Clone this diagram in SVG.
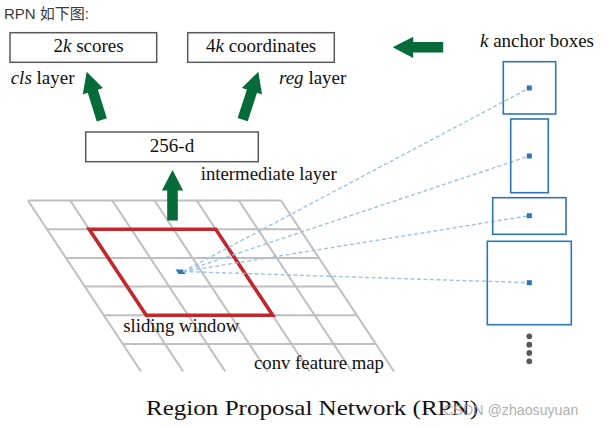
<svg xmlns="http://www.w3.org/2000/svg" width="603" height="428" viewBox="0 0 603 428">
<style>
.serif{font-family:"Liberation Serif","Times New Roman",serif;fill:#111;}
.box{fill:#fff;stroke:#595959;stroke-width:1.5;}
.grid line{stroke:#bfbfbf;stroke-width:2;}
.anchor{fill:none;stroke:#2e75b6;stroke-width:1.6;}
.ctr{fill:#2e75b6;}
.dash{stroke:#9dc3e6;stroke-width:1.4;stroke-dasharray:4 2.5;fill:none;}
.arrow{fill:#056b38;}
</style>
<defs>
<polygon id="up" points="0,0 10.6,20.5 5.3,20.5 5.3,50.5 -5.3,50.5 -5.3,20.5 -10.6,20.5"/>
</defs>
<rect width="603" height="428" fill="#fff"/>
<text x="4" y="18.5" font-family="'Liberation Sans','Noto Sans CJK SC',sans-serif" font-size="15" fill="#3a3a3a">RPN 如下图:</text>

<g id="grid" class="grid">
<line x1="28" y1="200.5" x2="281" y2="200.5"/>
<line x1="47" y1="229.2" x2="300" y2="229.2"/>
<line x1="66" y1="257.9" x2="319" y2="257.9"/>
<line x1="85" y1="286.6" x2="338" y2="286.6"/>
<line x1="104" y1="315.3" x2="357" y2="315.3"/>
<line x1="123" y1="344" x2="376" y2="344"/>
<line x1="28" y1="200.5" x2="141" y2="371.5"/>
<line x1="70.2" y1="200.5" x2="183.2" y2="371.5"/>
<line x1="112.3" y1="200.5" x2="225.3" y2="371.5"/>
<line x1="154.5" y1="200.5" x2="267.5" y2="371.5"/>
<line x1="196.7" y1="200.5" x2="309.7" y2="371.5"/>
<line x1="238.8" y1="200.5" x2="351.8" y2="371.5"/>
<line x1="281" y1="200.5" x2="394" y2="371.5"/>
</g>

<g id="sliding-window">
<polygon points="89.2,229.2 215.7,229.2 272.7,315.3 146.2,315.3" fill="none" stroke="#c1272d" stroke-width="3.6" stroke-linejoin="miter"/>
<polygon class="ctr" points="175.5,269.5 183,269.5 185.5,274 178.5,274"/>
</g>

<g id="connectors">
<line class="dash" x1="183" y1="271.5" x2="529.3" y2="88"/>
<line class="dash" x1="183" y1="271.5" x2="529.3" y2="156"/>
<line class="dash" x1="183" y1="271.5" x2="529.3" y2="215.7"/>
<line class="dash" x1="183" y1="271.5" x2="529.3" y2="282.7"/>
<use href="#up" class="arrow" transform="translate(86.7,71.7) rotate(-17.4)"/>
<use href="#up" class="arrow" transform="translate(258.3,71.7) rotate(18)"/>
<use href="#up" class="arrow" transform="translate(172.5,170)"/>
<use href="#up" class="arrow" transform="translate(392.7,47.3) rotate(-90)"/>
</g>

<g id="node-scores">
<rect class="box" x="10" y="32.7" width="146.7" height="29.6"/>
<text class="serif" x="53.5" y="52" font-size="19">2<tspan font-style="italic">k</tspan> scores</text>
</g>
<g id="node-coords">
<rect class="box" x="187.7" y="32.7" width="146.6" height="29.6"/>
<text class="serif" x="206" y="52" font-size="19">4<tspan font-style="italic">k</tspan> coordinates</text>
</g>
<g id="label-cls"><text class="serif" x="10.7" y="84" font-size="19"><tspan font-style="italic">cls</tspan> layer</text></g>
<g id="label-reg"><text class="serif" x="279" y="84" font-size="19"><tspan font-style="italic">reg</tspan> layer</text></g>
<g id="label-anchor"><text class="serif" x="480" y="47.3" font-size="19"><tspan font-style="italic">k</tspan> anchor boxes</text></g>

<g id="node-256d">
<rect class="box" x="85.7" y="132" width="172.6" height="29.7"/>
<text class="serif" x="172" y="151.7" font-size="19" text-anchor="middle">256-d</text>
</g>
<g id="label-intermediate"><text class="serif" x="200.7" y="180" font-size="19" textLength="136" lengthAdjust="spacingAndGlyphs">intermediate layer</text></g>
<g id="label-sliding"><text class="serif" x="123.3" y="332" font-size="19" textLength="116" lengthAdjust="spacingAndGlyphs">sliding window</text></g>
<g id="label-conv"><text class="serif" x="254" y="368.5" font-size="19" textLength="130" lengthAdjust="spacingAndGlyphs">conv feature map</text></g>

<g id="anchor-1">
<rect class="anchor" x="503.3" y="61.7" width="52.4" height="52.3"/>
<rect class="ctr" x="526.8" y="85.5" width="5" height="5"/>
</g>
<g id="anchor-2">
<rect class="anchor" x="510.7" y="119" width="37.6" height="73.7"/>
<rect class="ctr" x="526.8" y="153.5" width="5" height="5"/>
</g>
<g id="anchor-3">
<rect class="anchor" x="492.7" y="197.7" width="73.3" height="36.6"/>
<rect class="ctr" x="526.8" y="213.2" width="5" height="5"/>
</g>
<g id="anchor-4">
<rect class="anchor" x="487.3" y="241.3" width="84" height="83.4"/>
<rect class="ctr" x="526.8" y="280.2" width="5" height="5"/>
</g>
<g id="ellipsis" fill="#595959">
<circle cx="529.3" cy="336.3" r="2.9"/>
<circle cx="529.3" cy="344.7" r="2.9"/>
<circle cx="529.3" cy="353" r="2.9"/>
<circle cx="529.3" cy="361.3" r="2.9"/>
</g>

<g id="title"><text class="serif" x="146" y="415" font-size="21.5" textLength="332" lengthAdjust="spacingAndGlyphs">Region Proposal Network (RPN)</text></g>
<text x="443.3" y="415" font-family="'Liberation Sans',Arial,sans-serif" font-size="14.5" fill="#9a9a9a" fill-opacity="0.8" textLength="135" lengthAdjust="spacingAndGlyphs">CSDN @zhaosuyuan</text>
</svg>
